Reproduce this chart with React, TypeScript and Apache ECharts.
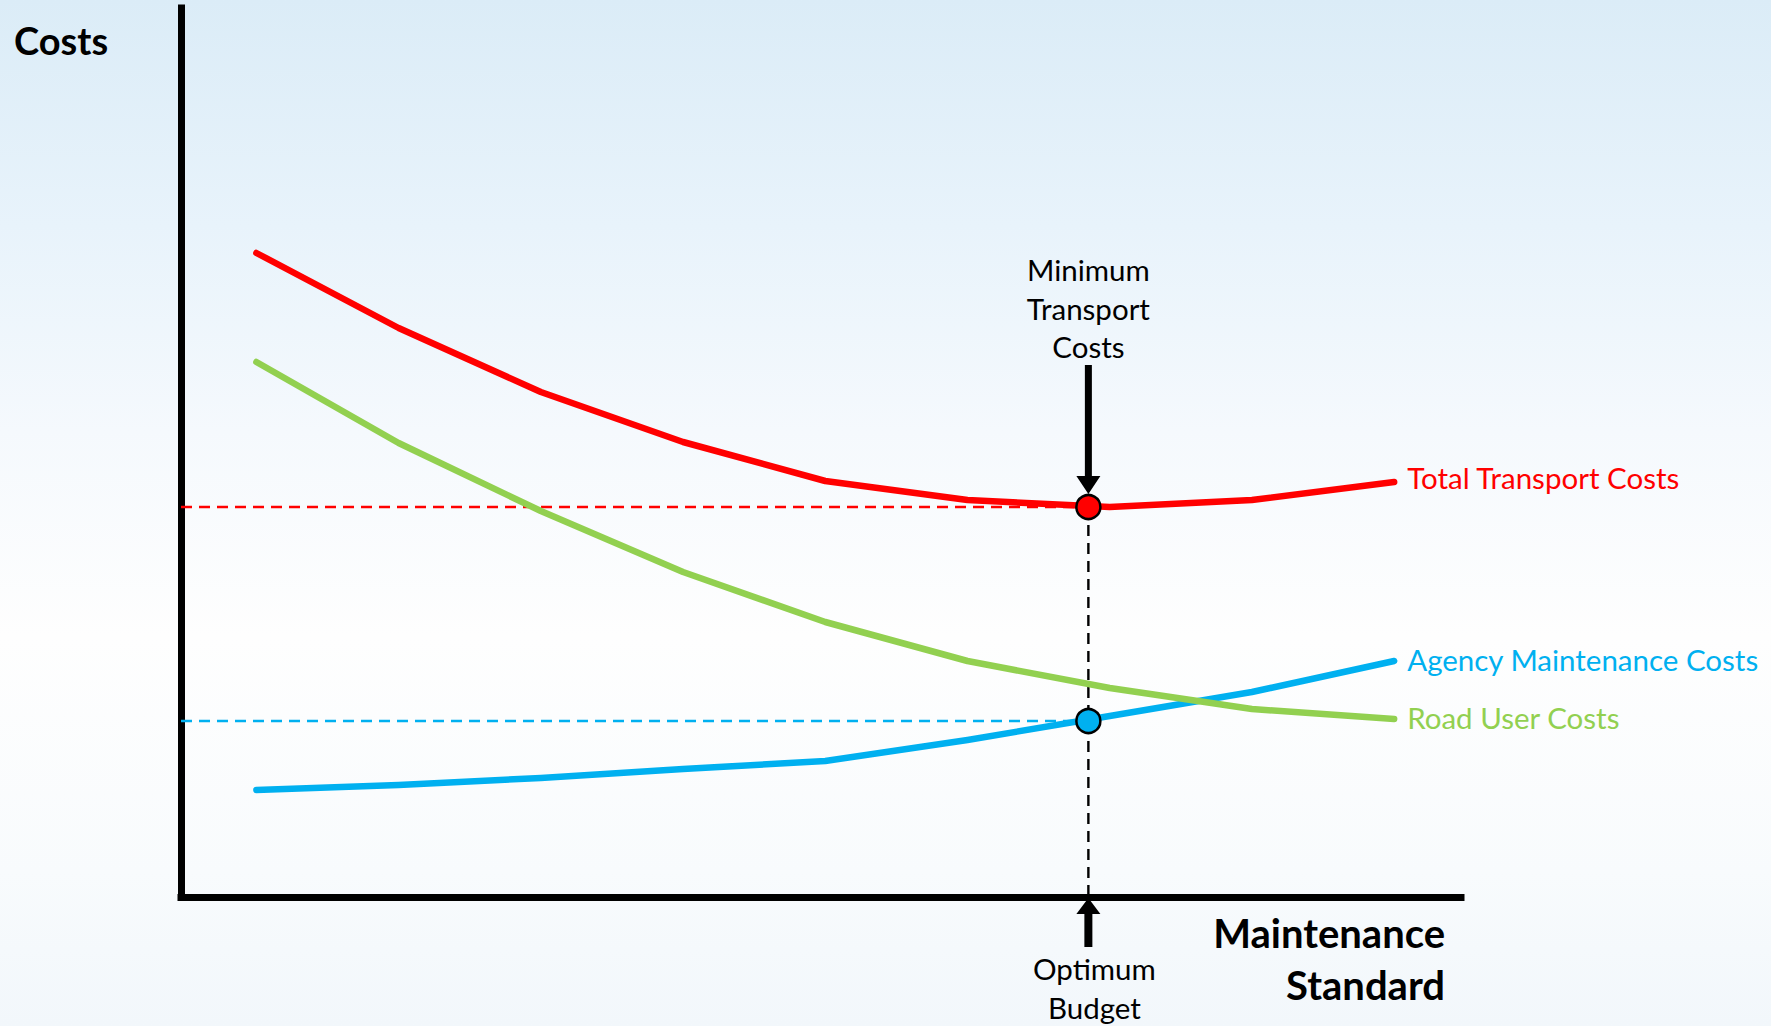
import React, { useEffect, useRef } from "react";
import * as echarts from "echarts";

// Maintenance standard steps (x) and the three cost curves (arbitrary cost units)
const standardSteps = [1, 2, 3, 4, 5, 6, 7, 8, 9];
const totalTransportCosts = [644, 569, 505, 455, 416, 397, 390, 397, 415];
const agencyMaintenanceCosts = [107, 112, 119, 128, 136, 157, 181, 205, 236];
const roadUserCosts = [535, 454, 386, 325, 275, 236, 209, 188, 178];

// Optimum point: minimum total cost and matching agency budget
const optimumStandard = 6.85;
const minimumTotalCost = 390;
const agencyCostAtOptimum = 176;

const seriesNames = ["Total Transport Costs", "Agency Maintenance Costs", "Road User Costs"];
const annotationTop = "Minimum\nTransport\nCosts";
const annotationBottom = "Optimum\nBudget";
const yTitle = "Costs";
const xTitle = "Maintenance\nStandard";

const X_MIN = 0.47;
const X_MAX = 9.47;
const Y_MAX = 889;

const RED = "#ff0000";
const BLUE = "#00b0f0";
const GREEN = "#92d050";
const FONT = "Lato";

const pairs = (ys: number[]) => standardSteps.map((x, i) => [x, ys[i]]);

export default function App() {
  const ref = useRef<HTMLDivElement | null>(null);

  useEffect(() => {
    if (!ref.current) return;
    const chart = echarts.init(ref.current, undefined, { renderer: "svg" });

    const curve = (name: string, color: string, ys: number[], dy: number) => ({
      name,
      type: "line",
      data: pairs(ys),
      symbol: "none",
      z: 5,
      lineStyle: { color, width: 6.5, cap: "round", join: "round" },
      endLabel: {
        show: true,
        formatter: "{a}",
        color,
        fontFamily: FONT,
        fontSize: 29.5,
        distance: 13,
        offset: [0, dy],
      },
    });

    const dashed = (data: number[][], color: string, z: number) => ({
      type: "line",
      data,
      symbol: "none",
      silent: true,
      z,
      lineStyle: { color, width: 2.4, type: [11, 7] },
    });

    chart.setOption({
      animation: false,
      backgroundColor: "transparent",
      grid: { left: 181, right: 310, top: 8, bottom: 129, containLabel: false },
      xAxis: {
        type: "value",
        min: X_MIN,
        max: X_MAX,
        axisLine: { show: true, lineStyle: { color: "#000", width: 7, cap: "square" } },
        axisTick: { show: false },
        axisLabel: { show: false },
        splitLine: { show: false },
      },
      yAxis: {
        type: "value",
        min: 0,
        max: Y_MAX,
        axisLine: { show: true, lineStyle: { color: "#000", width: 7, cap: "square" } },
        axisTick: { show: false },
        axisLabel: { show: false },
        splitLine: { show: false },
      },
      series: [
        dashed([[X_MIN, minimumTotalCost], [optimumStandard, minimumTotalCost]], RED, 2),
        dashed([[X_MIN, agencyCostAtOptimum], [optimumStandard, agencyCostAtOptimum]], BLUE, 2),
        dashed([[optimumStandard, minimumTotalCost], [optimumStandard, 0]], "#000", 3),
        curve(seriesNames[0], RED, totalTransportCosts, -5),
        curve(seriesNames[1], BLUE, agencyMaintenanceCosts, -2),
        curve(seriesNames[2], GREEN, roadUserCosts, -1.5),
        {
          type: "scatter",
          z: 8,
          symbolSize: 24,
          data: [
            { value: [optimumStandard, minimumTotalCost], itemStyle: { color: RED } },
            { value: [optimumStandard, agencyCostAtOptimum], itemStyle: { color: BLUE } },
          ],
          itemStyle: { borderColor: "#000", borderWidth: 2.5, opacity: 1 },
        },
      ],
    });

    const [ox, oy] = chart.convertToPixel({ gridIndex: 0 }, [optimumStandard, minimumTotalCost]) as number[];
    const [, baseY] = chart.convertToPixel({ gridIndex: 0 }, [optimumStandard, 0]) as number[];

    // Arrow pointing down onto the minimum-cost point
    const downTip = oy - 13;
    const downArrow = [
      [ox - 3.5, oy - 142],
      [ox + 3.5, oy - 142],
      [ox + 3.5, downTip - 18],
      [ox + 12, downTip - 18],
      [ox, downTip],
      [ox - 12, downTip - 18],
      [ox - 3.5, downTip - 18],
    ];
    // Arrow pointing up at the optimum budget on the axis
    const upTip = baseY + 1;
    const upArrow = [
      [ox, upTip],
      [ox + 12, upTip + 16],
      [ox + 4, upTip + 16],
      [ox + 4, baseY + 50],
      [ox - 4, baseY + 50],
      [ox - 4, upTip + 16],
      [ox - 12, upTip + 16],
    ];

    chart.setOption({
      graphic: [
        { type: "polygon", z: 20, shape: { points: downArrow }, style: { fill: "#000" } },
        { type: "polygon", z: 20, shape: { points: upArrow }, style: { fill: "#000" } },
        {
          type: "text",
          z: 20,
          x: ox,
          y: oy - 199,
          style: {
            text: annotationTop,
            fill: "#000",
            font: `29.5px ${FONT}`,
            lineHeight: 38.5,
            align: "center",
            verticalAlign: "middle",
          },
        },
        {
          type: "text",
          z: 20,
          x: ox + 6,
          y: baseY + 91,
          style: {
            text: annotationBottom,
            fill: "#000",
            font: `29.5px ${FONT}`,
            lineHeight: 38.5,
            align: "center",
            verticalAlign: "middle",
          },
        },
        {
          type: "text",
          z: 20,
          x: 14,
          y: 40,
          style: {
            text: yTitle,
            fill: "#000",
            font: `bold 38px ${FONT}`,
            align: "left",
            verticalAlign: "middle",
          },
        },
        {
          type: "text",
          z: 20,
          x: 1445,
          y: 959,
          style: {
            text: xTitle,
            fill: "#000",
            font: `bold 40px ${FONT}`,
            lineHeight: 52,
            align: "right",
            verticalAlign: "middle",
          },
        },
      ],
    });

    return () => chart.dispose();
  }, []);

  return (
    <div
      style={{
        position: "fixed",
        left: 0,
        top: 0,
        width: 1771,
        height: 1026,
        background:
          "linear-gradient(to bottom, #dbecf7 0%, #e8f3fb 22%, #f5f9fd 42%, #fefefe 62%, #f8fbfd 85%, #f2f7fb 100%)",
      }}
    >
      <div ref={ref} style={{ width: 1771, height: 1026 }} />
    </div>
  );
}
